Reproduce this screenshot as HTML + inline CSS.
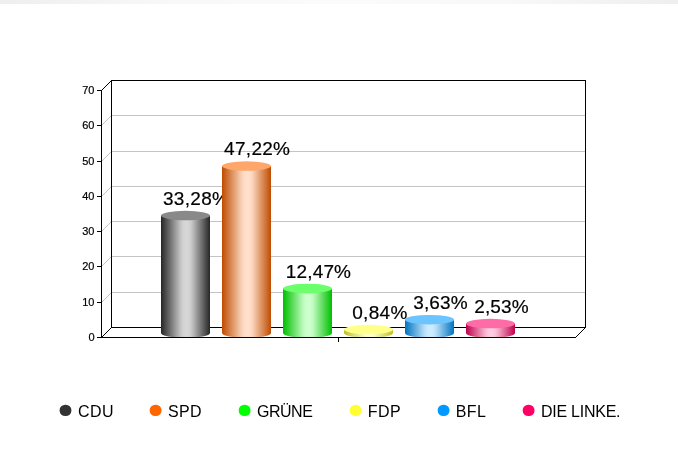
<!DOCTYPE html>
<html lang="de"><head><meta charset="utf-8"><title>Wahlergebnis</title>
<style>html,body{margin:0;padding:0;background:#fff}body{width:678px;height:450px;overflow:hidden;position:relative;font-family:"Liberation Sans",Arial,sans-serif}#strip{position:absolute;left:0;top:0;width:678px;height:4px;background:linear-gradient(90deg,#eeeeee 0%,#f3f3f3 12%,#f8f8f8 25%,#fbfbfb 50%,#f8f8f8 75%,#f3f3f3 88%,#eeeeee 100%)}svg{position:absolute;left:0;top:0;display:block;will-change:transform}svg text{font-family:"Liberation Sans",Arial,sans-serif}.ax{font-size:11px;fill:#000;text-anchor:end;stroke:#000;stroke-width:0.2px}.val{font-size:19px;fill:#000;text-anchor:middle;stroke:#000;stroke-width:0.2px}.lg{font-size:16px;fill:#000}</style></head><body><div id="strip"></div>
<svg width="678" height="450" viewBox="0 0 678 450">
<defs>
<linearGradient id="g0" x1="0" y1="0" x2="1" y2="0"><stop offset="0.00" stop-color="#262626"/><stop offset="0.05" stop-color="#3a3a3a"/><stop offset="0.10" stop-color="#4e4e4e"/><stop offset="0.15" stop-color="#616161"/><stop offset="0.20" stop-color="#757575"/><stop offset="0.25" stop-color="#898989"/><stop offset="0.30" stop-color="#9d9d9d"/><stop offset="0.35" stop-color="#b1b1b1"/><stop offset="0.40" stop-color="#c4c4c4"/><stop offset="0.45" stop-color="#d2d2d2"/><stop offset="0.50" stop-color="#d6d6d6"/><stop offset="0.55" stop-color="#d6d6d6"/><stop offset="0.60" stop-color="#cecece"/><stop offset="0.65" stop-color="#bcbcbc"/><stop offset="0.70" stop-color="#a7a7a7"/><stop offset="0.75" stop-color="#919191"/><stop offset="0.80" stop-color="#7c7c7c"/><stop offset="0.85" stop-color="#666666"/><stop offset="0.90" stop-color="#515151"/><stop offset="0.95" stop-color="#3b3b3b"/><stop offset="1.00" stop-color="#262626"/></linearGradient>
<linearGradient id="g1" x1="0" y1="0" x2="1" y2="0"><stop offset="0.00" stop-color="#bf4c00"/><stop offset="0.05" stop-color="#c65d17"/><stop offset="0.10" stop-color="#cd6d2e"/><stop offset="0.15" stop-color="#d57e45"/><stop offset="0.20" stop-color="#dc8f5c"/><stop offset="0.25" stop-color="#e39f73"/><stop offset="0.30" stop-color="#eab08a"/><stop offset="0.35" stop-color="#f1c1a1"/><stop offset="0.40" stop-color="#f8d1b7"/><stop offset="0.45" stop-color="#fddcc7"/><stop offset="0.50" stop-color="#ffe0cc"/><stop offset="0.55" stop-color="#ffe0cb"/><stop offset="0.60" stop-color="#fcd9c2"/><stop offset="0.65" stop-color="#f6caae"/><stop offset="0.70" stop-color="#eeb895"/><stop offset="0.75" stop-color="#e6a67c"/><stop offset="0.80" stop-color="#de9464"/><stop offset="0.85" stop-color="#d6824b"/><stop offset="0.90" stop-color="#cf7032"/><stop offset="0.95" stop-color="#c75e19"/><stop offset="1.00" stop-color="#bf4c00"/></linearGradient>
<linearGradient id="g2" x1="0" y1="0" x2="1" y2="0"><stop offset="0.00" stop-color="#00bf00"/><stop offset="0.05" stop-color="#17c617"/><stop offset="0.10" stop-color="#2ecd2e"/><stop offset="0.15" stop-color="#45d545"/><stop offset="0.20" stop-color="#5cdc5c"/><stop offset="0.25" stop-color="#73e373"/><stop offset="0.30" stop-color="#8aea8a"/><stop offset="0.35" stop-color="#a1f1a1"/><stop offset="0.40" stop-color="#b7f8b7"/><stop offset="0.45" stop-color="#c7fdc7"/><stop offset="0.50" stop-color="#ccffcc"/><stop offset="0.55" stop-color="#cbffcb"/><stop offset="0.60" stop-color="#c2fcc2"/><stop offset="0.65" stop-color="#aef6ae"/><stop offset="0.70" stop-color="#95ee95"/><stop offset="0.75" stop-color="#7ce67c"/><stop offset="0.80" stop-color="#64de64"/><stop offset="0.85" stop-color="#4bd64b"/><stop offset="0.90" stop-color="#32cf32"/><stop offset="0.95" stop-color="#19c719"/><stop offset="1.00" stop-color="#00bf00"/></linearGradient>
<linearGradient id="g3" x1="0" y1="0" x2="1" y2="0"><stop offset="0.00" stop-color="#bfbf26"/><stop offset="0.05" stop-color="#c6c63a"/><stop offset="0.10" stop-color="#cdcd4e"/><stop offset="0.15" stop-color="#d5d561"/><stop offset="0.20" stop-color="#dcdc75"/><stop offset="0.25" stop-color="#e3e389"/><stop offset="0.30" stop-color="#eaea9d"/><stop offset="0.35" stop-color="#f1f1b1"/><stop offset="0.40" stop-color="#f8f8c4"/><stop offset="0.45" stop-color="#fdfdd2"/><stop offset="0.50" stop-color="#ffffd6"/><stop offset="0.55" stop-color="#ffffd6"/><stop offset="0.60" stop-color="#fcfcce"/><stop offset="0.65" stop-color="#f6f6bc"/><stop offset="0.70" stop-color="#eeeea7"/><stop offset="0.75" stop-color="#e6e691"/><stop offset="0.80" stop-color="#dede7c"/><stop offset="0.85" stop-color="#d6d666"/><stop offset="0.90" stop-color="#cfcf51"/><stop offset="0.95" stop-color="#c7c73b"/><stop offset="1.00" stop-color="#bfbf26"/></linearGradient>
<linearGradient id="g4" x1="0" y1="0" x2="1" y2="0"><stop offset="0.00" stop-color="#0073bf"/><stop offset="0.05" stop-color="#1781c6"/><stop offset="0.10" stop-color="#2e8ecd"/><stop offset="0.15" stop-color="#459cd5"/><stop offset="0.20" stop-color="#5ca9dc"/><stop offset="0.25" stop-color="#73b7e3"/><stop offset="0.30" stop-color="#8ac4ea"/><stop offset="0.35" stop-color="#a1d2f1"/><stop offset="0.40" stop-color="#b7dff8"/><stop offset="0.45" stop-color="#c7e8fd"/><stop offset="0.50" stop-color="#ccebff"/><stop offset="0.55" stop-color="#cbebff"/><stop offset="0.60" stop-color="#c2e5fc"/><stop offset="0.65" stop-color="#aed9f6"/><stop offset="0.70" stop-color="#95cbee"/><stop offset="0.75" stop-color="#7cbce6"/><stop offset="0.80" stop-color="#64aede"/><stop offset="0.85" stop-color="#4b9fd6"/><stop offset="0.90" stop-color="#3290cf"/><stop offset="0.95" stop-color="#1982c7"/><stop offset="1.00" stop-color="#0073bf"/></linearGradient>
<linearGradient id="g5" x1="0" y1="0" x2="1" y2="0"><stop offset="0.00" stop-color="#bf004c"/><stop offset="0.05" stop-color="#c6175d"/><stop offset="0.10" stop-color="#cd2e6d"/><stop offset="0.15" stop-color="#d5457e"/><stop offset="0.20" stop-color="#dc5c8f"/><stop offset="0.25" stop-color="#e3739f"/><stop offset="0.30" stop-color="#ea8ab0"/><stop offset="0.35" stop-color="#f1a1c1"/><stop offset="0.40" stop-color="#f8b7d1"/><stop offset="0.45" stop-color="#fdc7dc"/><stop offset="0.50" stop-color="#ffcce0"/><stop offset="0.55" stop-color="#ffcbe0"/><stop offset="0.60" stop-color="#fcc2d9"/><stop offset="0.65" stop-color="#f6aeca"/><stop offset="0.70" stop-color="#ee95b8"/><stop offset="0.75" stop-color="#e67ca6"/><stop offset="0.80" stop-color="#de6494"/><stop offset="0.85" stop-color="#d64b82"/><stop offset="0.90" stop-color="#cf3270"/><stop offset="0.95" stop-color="#c7195e"/><stop offset="1.00" stop-color="#bf004c"/></linearGradient>
</defs>
<g shape-rendering="crispEdges" fill="none" stroke-width="1">
<rect x="111.5" y="80.5" width="474.0" height="247.0" fill="#fff" stroke="none"/>
<path d="M101.5 302.5L111.5 292.5H585.5M101.5 266.5L111.5 256.5H585.5M101.5 231.5L111.5 221.5H585.5M101.5 196.5L111.5 186.5H585.5M101.5 161.5L111.5 151.5H585.5M101.5 125.5L111.5 115.5H585.5" stroke="#c4c4c4"/>
<path d="M111.5 327.5V80.5H585.5V327.5H111.5M101.5 90.5L111.5 80.5M101.5 337.5L111.5 327.5M575.5 337.5L585.5 327.5" stroke="#000"/>
</g>
<path d="M161 215.52V333.0A24.5 5.0 0 0 0 210 333.0V215.52Z" fill="url(#g0)"/>
<ellipse cx="185.5" cy="215.52" rx="24.5" ry="4.75" fill="#898989"/>
<text class="val" x="196.1" y="204.82" letter-spacing="0.3">33,28%</text>
<path d="M222 166.03V333.0A24.5 5.0 0 0 0 271 333.0V166.03Z" fill="url(#g1)"/>
<ellipse cx="246.5" cy="166.03" rx="24.5" ry="4.75" fill="#ffa66b"/>
<text class="val" x="257.2" y="155.33" letter-spacing="0.3">47,22%</text>
<path d="M283 288.50V333.0A24.5 5.0 0 0 0 332 333.0V288.50Z" fill="url(#g2)"/>
<ellipse cx="307.5" cy="288.50" rx="24.5" ry="4.75" fill="#6bff6b"/>
<text class="val" x="318.5" y="277.80" letter-spacing="0.15">12,47%</text>
<path d="M344 329.54V333.0A24.5 5.0 0 0 0 393 333.0V329.54Z" fill="url(#g3)"/>
<ellipse cx="368.5" cy="329.54" rx="24.5" ry="4.75" fill="#ffff89"/>
<text class="val" x="379.9" y="318.84" letter-spacing="0.3">0,84%</text>
<path d="M405 319.69V333.0A24.5 5.0 0 0 0 454 333.0V319.69Z" fill="url(#g4)"/>
<ellipse cx="429.5" cy="319.69" rx="24.5" ry="4.75" fill="#6bc4ff"/>
<text class="val" x="440.5" y="308.99" letter-spacing="0.15">3,63%</text>
<path d="M466 323.57V333.0A24.5 5.0 0 0 0 515 333.0V323.57Z" fill="url(#g5)"/>
<ellipse cx="490.5" cy="323.57" rx="24.5" ry="4.75" fill="#ff6ba6"/>
<text class="val" x="501.5" y="312.87" letter-spacing="0.15">2,53%</text>
<g shape-rendering="crispEdges" fill="none" stroke="#000" stroke-width="1">
<path d="M101.5 90.5V337.5H575.5M338.5 337.5V342M97 337.5H101.5M97 302.5H101.5M97 266.5H101.5M97 231.5H101.5M97 196.5H101.5M97 161.5H101.5M97 125.5H101.5M97 90.5H101.5"/>
</g>
<text class="ax" x="94.5" y="340.5">0</text>
<text class="ax" x="94.5" y="305.5">10</text>
<text class="ax" x="94.5" y="269.5">20</text>
<text class="ax" x="94.5" y="234.5">30</text>
<text class="ax" x="94.5" y="199.5">40</text>
<text class="ax" x="94.5" y="164.5">50</text>
<text class="ax" x="94.5" y="128.5">60</text>
<text class="ax" x="94.5" y="93.5">70</text>
<rect x="59.6" y="404.8" width="11.8" height="11.3" rx="5.6" ry="5.3" fill="#333333"/>
<text class="lg" letter-spacing="0.5" transform="translate(78.0 417) scale(1 1.05)">CDU</text>
<rect x="149.7" y="404.8" width="11.8" height="11.3" rx="5.6" ry="5.3" fill="#ff6600"/>
<text class="lg" letter-spacing="0.3" transform="translate(168.1 417) scale(1 1.05)">SPD</text>
<rect x="238.7" y="404.8" width="11.8" height="11.3" rx="5.6" ry="5.3" fill="#00ff00"/>
<text class="lg" letter-spacing="-0.45" transform="translate(256.9 417) scale(1 1.05)">GRÜNE</text>
<rect x="349.7" y="404.8" width="11.8" height="11.3" rx="5.6" ry="5.3" fill="#ffff33"/>
<text class="lg" letter-spacing="0.4" transform="translate(367.8 417) scale(1 1.05)">FDP</text>
<rect x="437.7" y="404.8" width="11.8" height="11.3" rx="5.6" ry="5.3" fill="#0099ff"/>
<text class="lg" letter-spacing="0.4" transform="translate(455.8 417) scale(1 1.05)">BFL</text>
<rect x="522.7" y="404.8" width="11.8" height="11.3" rx="5.6" ry="5.3" fill="#ff0066"/>
<text class="lg" letter-spacing="-0.23" transform="translate(540.9 417) scale(1 1.05)">DIE LINKE.</text>
</svg></body></html>
